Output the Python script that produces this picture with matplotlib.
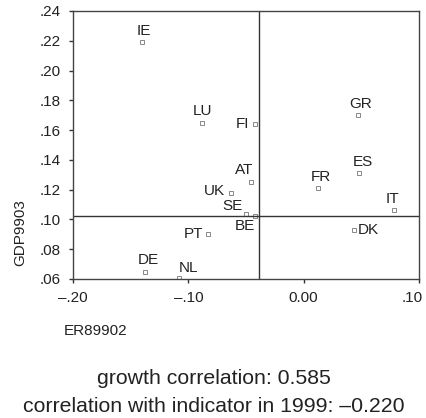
import matplotlib
matplotlib.use("Agg")
import matplotlib.pyplot as plt
from matplotlib.transforms import ScaledTranslation

plt.rcParams['font.family'] = ['Liberation Sans', 'DejaVu Sans']

countries = ['IE', 'LU', 'FI', 'AT', 'UK', 'GR', 'ES', 'FR', 'IT', 'DK', 'SE', 'BE', 'PT', 'DE', 'NL']
er89902 = [-0.140, -0.088, -0.042, -0.046, -0.063, 0.047, 0.048, 0.0125, 0.078, 0.044, -0.050, -0.042, -0.083, -0.138, -0.108]
gdp9903 = [0.219, 0.165, 0.164, 0.1254, 0.118, 0.170, 0.131, 0.121, 0.1064, 0.093, 0.1037, 0.1021, 0.090, 0.065, 0.061]
# label offsets in points (dx, dy) and alignment
placement = {
    'IE': (1, 3, 'center', 'bottom'), 'LU': (0, 3, 'center', 'bottom'),
    'FI': (-4, 0, 'right', 'center'), 'AT': (-4.5, 3, 'center', 'bottom'),
    'UK': (-4, 1, 'right', 'center'), 'GR': (2, 3, 'center', 'bottom'),
    'ES': (3, 3, 'center', 'bottom'), 'FR': (2, 3, 'center', 'bottom'),
    'IT': (-0.5, 3, 'center', 'bottom'), 'DK': (2.5, 0, 'left', 'center'),
    'SE': (-2.5, 1, 'right', 'bottom'), 'BE': (0, -2, 'right', 'top'),
    'PT': (-3.5, 0, 'right', 'center'), 'DE': (2.5, 3, 'center', 'bottom'),
    'NL': (6.5, 2, 'center', 'bottom'),
}
xticks = [-0.20, -0.10, 0.00, 0.10]
xticklabels = ['\u2013.20', '\u2013.10', '0.00', '.10']
yticks = [0.06, 0.08, 0.10, 0.12, 0.14, 0.16, 0.18, 0.20, 0.22, 0.24]
yticklabels = ['.06', '.08', '.10', '.12', '.14', '.16', '.18', '.20', '.22', '.24']
vline_x = -0.039
hline_y = 0.1023

fig = plt.figure(figsize=(4.27, 4.18), dpi=100)
ax = fig.add_axes([73/427, 1-279/418, 346/427, 268/418])
ax.plot(er89902, gdp9903, ls='none', marker='s', ms=2.6, mfc='white', mec='#888888', mew=0.7)
for c, x, y in zip(countries, er89902, gdp9903):
    dx, dy, ha, va = placement[c]
    ax.annotate(c, (x, y), xytext=(dx, dy), textcoords='offset points', ha=ha, va=va,
                fontsize=11, color='#222222')
ax.axvline(vline_x, color='#333333', lw=1)
ax.axhline(hline_y, color='#333333', lw=1)
ax.set_xlim(-0.20, 0.10)
ax.set_ylim(0.06, 0.24)
ax.set_xticks(xticks)
ax.set_xticklabels(xticklabels)
ax.set_yticks(yticks)
ax.set_yticklabels(yticklabels)
ax.tick_params(direction='out', length=3, width=1, colors='#333333', labelcolor='#222222', labelsize=11, pad=6)
last = ax.get_xticklabels()[-1]
last.set_horizontalalignment('right')
last.set_transform(last.get_transform() + ScaledTranslation(3/72, 0, fig.dpi_scale_trans))
for s in ax.spines.values():
    s.set_color('#444444'); s.set_linewidth(1)

fig.text(20/427, 1-233/418, 'GDP9903', rotation=90, ha='center', va='center', fontsize=11, color='#222222')
fig.text(64/427, 1-331/418, 'ER89902', ha='left', va='center', fontsize=11, color='#222222')
fig.text(214/427, 1-378/418, 'growth correlation: 0.585', ha='center', va='center', fontsize=15.3, color='#222222')
fig.text(214/427, 1-406/418, 'correlation with indicator in 1999: \u20130.220', ha='center', va='center', fontsize=15.3, color='#222222')

fig.savefig('out.png', dpi=100)
